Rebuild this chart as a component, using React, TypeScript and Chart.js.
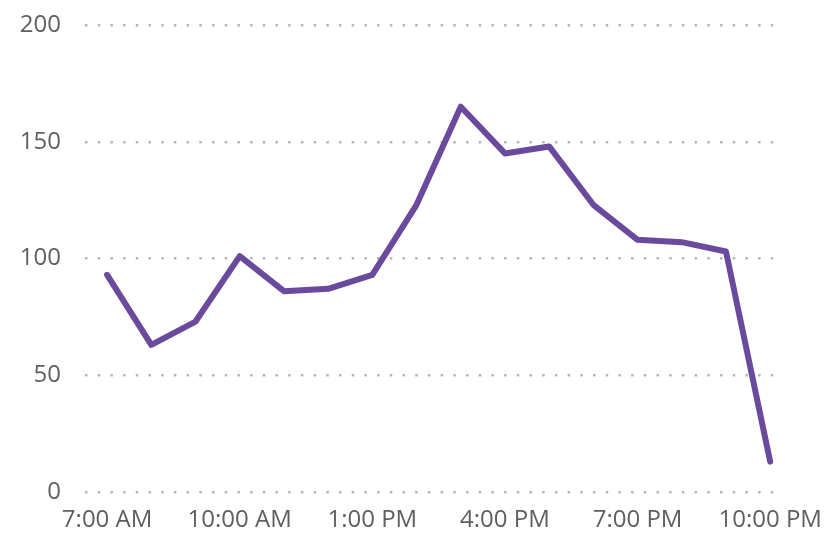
import React, { useEffect, useRef } from "react";
import { Chart, registerables } from "chart.js";

Chart.register(...registerables);

const hours: string[] = [
  "7:00 AM", "8:00 AM", "9:00 AM", "10:00 AM", "11:00 AM", "12:00 PM",
  "1:00 PM", "2:00 PM", "3:00 PM", "4:00 PM", "5:00 PM", "6:00 PM",
  "7:00 PM", "8:00 PM", "9:00 PM", "10:00 PM",
];
const values: number[] = [93, 63, 73, 101, 86, 87, 93, 123, 165, 145, 148, 123, 108, 107, 103, 13];
const xTickIndexes: number[] = [0, 3, 6, 9, 12, 15];
const yTicks: number[] = [0, 50, 100, 150, 200];

export default function App() {
  const ref = useRef<HTMLCanvasElement | null>(null);

  useEffect(() => {
    if (!ref.current) return;
    const font = { family: "'Open Sans', 'Noto Sans', sans-serif", size: 24 };
    const chart = new Chart(ref.current, {
      type: "line",
      data: {
        datasets: [
          {
            data: values.map((v, i) => ({ x: i, y: v })),
            borderColor: "rgb(106,74,156)",
            borderWidth: 6,
            borderJoinStyle: "round",
            borderCapStyle: "round",
            pointRadius: 0,
            tension: 0,
            fill: false,
          },
        ],
      },
      options: {
        animation: false,
        responsive: false,
        maintainAspectRatio: false,
        layout: { padding: { top: 25, right: 56, left: 0, bottom: 0 } },
        plugins: { legend: { display: false }, tooltip: { enabled: false } },
        scales: {
          x: {
            type: "linear",
            min: -0.5,
            max: 15.29,
            afterBuildTicks: (scale: any) => {
              scale.ticks = xTickIndexes.map((v) => ({ value: v }));
            },
            afterFit: (scale: any) => {
              scale.height = 48;
              scale.paddingLeft = 0;
              scale.paddingRight = 0;
            },
            ticks: {
              autoSkip: false,
              maxRotation: 0,
              padding: 14,
              color: "#5f5f5f",
              font,
              callback: (v: any) => hours[Number(v)] ?? "",
            },
            grid: { display: false, drawTicks: false },
            border: { display: false },
          },
          y: {
            min: 0,
            max: 200,
            afterBuildTicks: (scale: any) => {
              scale.ticks = yTicks.map((v) => ({ value: v }));
            },
            afterFit: (scale: any) => {
              scale.width = 85;
              scale.paddingTop = 0;
              scale.paddingBottom = 0;
            },
            ticks: { padding: 24, color: "#5f5f5f", font },
            grid: {
              color: "#b5b5b5",
              lineWidth: 2.5,
              drawTicks: false,
            },
            border: { display: false, dash: [2.5, 10.2] },
          },
        },
      },
    });
    return () => chart.destroy();
  }, []);

  return (
    <div style={{ position: "fixed", left: 0, top: 0, width: 839, height: 540, background: "#fff" }}>
      <canvas ref={ref} width={839} height={540} style={{ width: 839, height: 540 }} />
    </div>
  );
}
